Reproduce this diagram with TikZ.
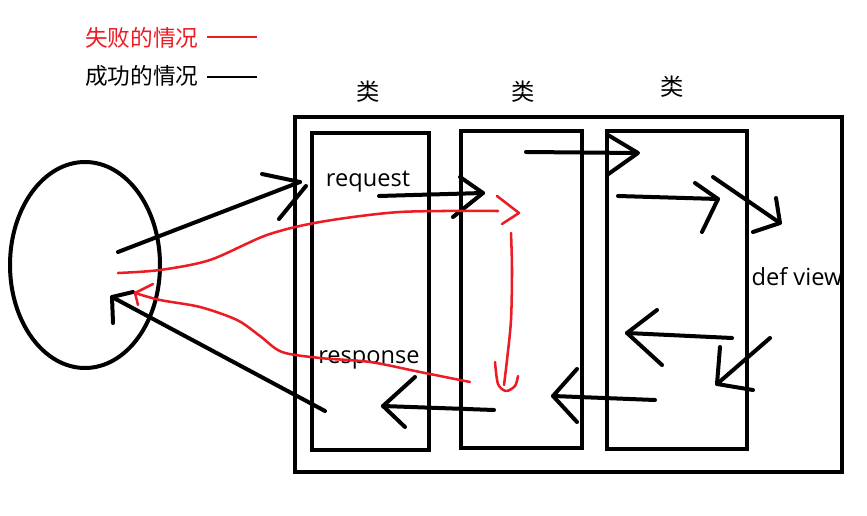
\documentclass[tikz,border=0pt]{standalone}
\usepackage{fontspec}
\setmainfont{Open Sans}
\newfontfamily\cjk{Noto Sans CJK SC}
\usetikzlibrary{shapes.geometric}
\definecolor{paintred}{RGB}{237,28,36}
\begin{document}
\begin{tikzpicture}[x=0.75pt,y=-0.75pt,
  stroke/.style={line width=3pt,line cap=round,line join=round},
  redstroke/.style={line width=1.9pt,paintred,line cap=round,line join=round},
  boxnode/.style={draw,line width=3pt,inner sep=0pt,rectangle},
  lbl/.style={font=\fontsize{17.7}{21}\selectfont,inner sep=0pt},
  cjklbl/.style={font=\cjk\fontsize{17}{20}\selectfont,inner sep=0pt},
  classlbl/.style={font=\cjk\fontsize{17.5}{21}\selectfont,inner sep=0pt}]
\useasboundingbox (0,0) rectangle (867,516);
% legend
\node[cjklbl,text=paintred,anchor=west] (failtxt) at (85,38) {失败的情况};
\coordinate (fa) at (207,37); \coordinate (fb) at (257,37);
\draw[paintred,line width=1.6pt] (fa) -- (fb);
\node[cjklbl,anchor=west] (oktxt) at (85,76) {成功的情况};
\coordinate (oa) at (207,77); \coordinate (ob) at (257,77);
\draw[line width=1.6pt] (oa) -- (ob);
% class labels
\node[classlbl] (c1) at (368,91.5) {类};
\node[classlbl] (c2) at (523.5,91.5) {类};
\node[classlbl] (c3) at (672,86.5) {类};
% boxes
\node[boxnode,minimum width=410.25pt,minimum height=266.25pt] (outer) at (568.5,294.5) {};
\node[boxnode,minimum width=87.75pt,minimum height=237.75pt] (b1) at (370.5,291.5) {};
\node[boxnode,minimum width=90.75pt,minimum height=237.75pt] (b2) at (521.5,289.5) {};
\node[boxnode,minimum width=105pt,minimum height=238.5pt] (b3) at (677,290) {};
\node[draw,ellipse,line width=3pt,inner sep=0pt,minimum width=112.5pt,minimum height=154.5pt] (client) at (85,265) {};
% texts
\node[lbl] (req) at (368,182) {request};
\node[lbl] (resp) at (369,360) {response};
\node[lbl] (view) at (797,277) {def view};
% black strokes
\draw[stroke] (118,252) -- (300,182);
\draw[stroke] (262,174) -- (300,182);
\draw[stroke] (279,219) -- (306,186);
\draw[stroke] (379,196) -- (483,193);
\draw[stroke] (460,177) -- (483,193) -- (453,217);
\draw[stroke] (526,152) -- (637,153);
\draw[stroke] (608,135) -- (638,153) -- (607,175);
\draw[stroke] (618,196) -- (718,199);
\draw[stroke] (695,183) -- (718,199) -- (702,232);
\draw[stroke] (713,177) -- (780,223);
\draw[stroke] (776,198) -- (780,223) -- (753,232);
\draw[stroke] (732,338) -- (627,333);
\draw[stroke] (657,310) -- (627,333) -- (662,365);
\draw[stroke] (770,338) -- (717,384);
\draw[stroke] (720,347) -- (717,384) -- (753,390);
\draw[stroke] (655,400) -- (553,396);
\draw[stroke] (577,369) -- (553,396) -- (577,422);
\draw[stroke] (494,410) -- (383,406);
\draw[stroke] (415,377) -- (383,406) -- (405,427);
\draw[stroke] (325,411) -- (112,297);
\draw[stroke] (113,323) -- (112,297) -- (133,292);
% red strokes
\draw[redstroke] plot[smooth] coordinates {(118,273) (160,270) (210,260) (267,235) (320,222) (400,212) (498,211)};
\draw[redstroke] (497,196) -- (519,213) -- (502,224);
\draw[redstroke] plot[smooth] coordinates {(511,233) (512,270) (511,320) (507,360) (504,385)};
\draw[redstroke] plot[smooth] coordinates {(495,362) (498,384) (506,391) (515,386) (518,376)};
\draw[redstroke] plot[smooth] coordinates {(470,382) (420,372) (370,362) (320,358) (282,352) (260,336) (237,320) (200,307) (160,300) (135,293)};
\draw[redstroke] (153,284) -- (135,293) -- (138,305);
\end{tikzpicture}
\end{document}
